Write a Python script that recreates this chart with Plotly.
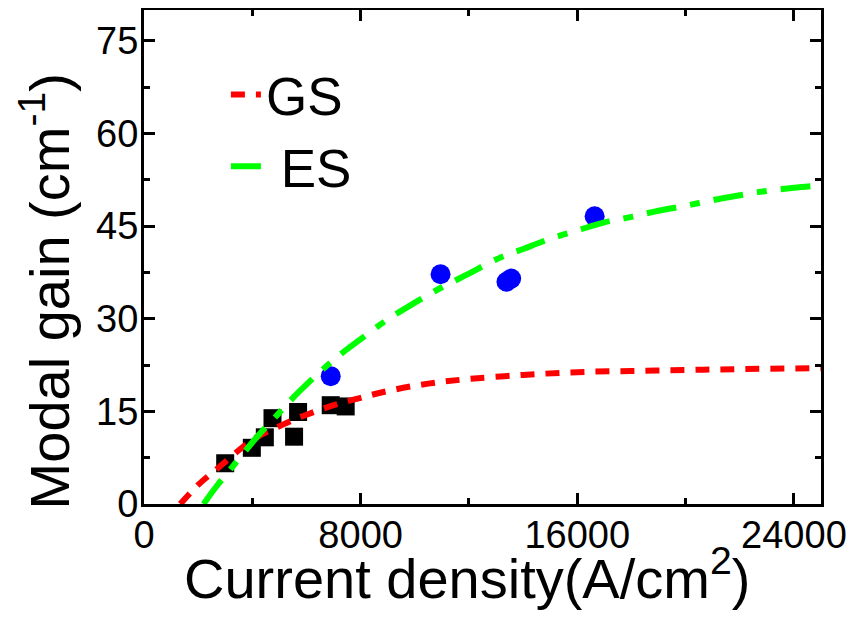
import plotly.graph_objects as go

# measured points (ground state, squares) and excited state (circles)
gs_j = [2998, 3982, 4462, 4745, 5690, 5542, 6895, 7448]
gs_gain = [6.6, 9.1, 10.8, 13.9, 14.9, 10.9, 16.0, 15.8]

es_j = [6895, 10951, 13385, 13558, 16641]
es_gain = [20.7, 37.2, 36.0, 36.5, 46.6]

# fitted curves
gs_fit_j = [1340, 2000, 2700, 3500, 4000, 4500, 5000, 5500, 6000, 7000, 8000,
            9000, 10500, 12000, 14000, 16000, 18000, 20000, 22000, 25000]
gs_fit_gain = [0, 3.1, 5.7, 8.7, 10.4, 11.6, 12.6, 13.6, 14.45, 16.0, 17.2,
               18.3, 19.5, 20.25, 20.9, 21.35, 21.55, 21.7, 21.85, 22.0]

es_fit_j = [2200, 2700, 3300, 4200, 5000, 5500, 6600, 7300, 8000, 9000, 10000,
            11000, 12000, 13000, 14000, 15000, 16000, 17000, 18000, 19000,
            20000, 21000, 22000, 23000, 24000, 25000]
es_fit_gain = [0, 3.0, 6.2, 11.0, 14.8, 17.2, 21.8, 24.4, 26.7, 29.9, 32.6,
               35.1, 37.3, 39.6, 41.3, 42.95, 44.3, 45.6, 46.5, 47.5,
               48.3, 49.2, 50.0, 50.7, 51.2, 51.6]

FONT = "Liberation Sans, Arial, sans-serif"

fig = go.Figure()

# data points
fig.add_trace(go.Scatter(
    x=gs_j, y=gs_gain, mode='markers', showlegend=False,
    marker=dict(symbol='square', size=18, color='black')
))
fig.add_trace(go.Scatter(
    x=es_j, y=es_gain, mode='markers', showlegend=False,
    marker=dict(symbol='circle', size=20, color='#0000FF')
))

# fit lines
fig.add_trace(go.Scatter(
    x=gs_fit_j, y=gs_fit_gain, mode='lines', name='GS',
    line=dict(color='#FF0000', width=6, dash='14px,11px', shape='spline')
))
fig.add_trace(go.Scatter(
    x=es_fit_j, y=es_fit_gain, mode='lines', name='&nbsp;ES',
    line=dict(color='#00FF00', width=6, dash='30px,14px,10px,14px', shape='spline')
))

axis_common = dict(
    showline=True, linecolor='black', linewidth=3, mirror='allticks',
    ticks='inside', ticklen=11, tickwidth=3, tickcolor='black',
    showgrid=False, zeroline=False, automargin=False, tickformat='d',
    ticklabelstandoff=-5, ticklabeloverflow='allow',
    tickfont=dict(family=FONT, size=38, color='black'),
)

fig.update_xaxes(
    range=[0, 25000], tick0=0, dtick=8000,
    minor=dict(dtick=4000, ticks='inside', ticklen=6, tickwidth=3, tickcolor='black'),
    **axis_common
)
fig.update_yaxes(
    range=[0, 80], tick0=0, dtick=15,
    minor=dict(dtick=7.5, ticks='inside', ticklen=6, tickwidth=3, tickcolor='black'),
    **axis_common
)

# axis titles
title_font = dict(family=FONT, size=56, color='black')
fig.add_annotation(text='Current density(A/cm<sup>2</sup>)', xref='paper', yref='paper',
                   x=0.477, y=-0.142, xanchor='center', yanchor='middle',
                   showarrow=False, font=title_font)
fig.add_annotation(text='Modal gain (cm<sup>-1</sup>)', xref='paper', yref='paper',
                   x=-0.145, y=0.43, xanchor='center', yanchor='middle',
                   textangle=-90, showarrow=False, font=title_font)

# page body adds an 8px margin, so the figure is sized to fit inside the window
fig.update_layout(
    width=838, height=602,
    margin=dict(l=136, r=25, t=2, b=106),
    paper_bgcolor='white', plot_bgcolor='white',
    font=dict(family=FONT, color='black'),
    legend=dict(x=0.121, y=0.912, xanchor='left', yanchor='top',
                bgcolor='rgba(0,0,0,0)', font=dict(family=FONT, size=53),
                tracegroupgap=0),
)

fig.write_html("out.html")
